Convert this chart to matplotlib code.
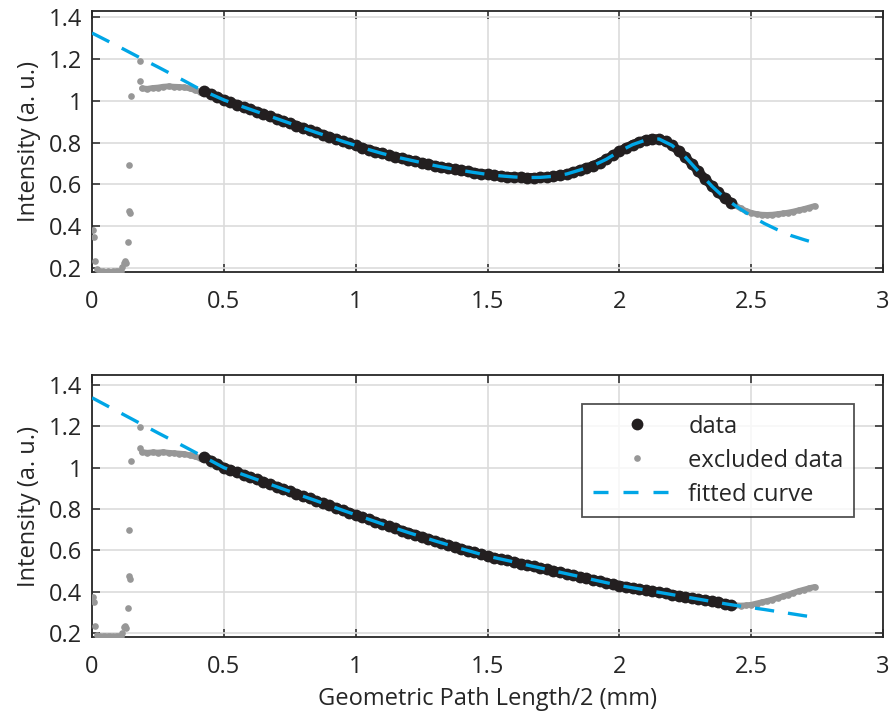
import numpy as np
import matplotlib
matplotlib.use('Agg')
import matplotlib.pyplot as plt
from matplotlib.ticker import FuncFormatter

plt.rcParams['font.family'] = 'Open Sans'

# sampling grids (mm)
data_x = np.round(np.arange(0.425, 2.4251, 0.025), 3)
fit_x = np.append(np.round(np.arange(0, 2.7001, 0.05), 2), 2.74)
excl_x = [0.005, 0.008, 0.012, 0.018, 0.03, 0.04, 0.05, 0.06, 0.07, 0.08, 0.09, 0.10,
          0.11, 0.115, 0.12, 0.125, 0.13, 0.135, 0.139, 0.142, 0.143, 0.148, 0.18, 0.182,
          0.19, 0.21, 0.23, 0.25, 0.27, 0.29, 0.31, 0.33, 0.35, 0.37, 0.39, 0.41,
          2.44, 2.46, 2.48, 2.50, 2.52, 2.54, 2.56, 2.58, 2.60, 2.62, 2.64, 2.66,
          2.68, 2.70, 2.72, 2.74]

# top panel
top_data = [1.045, 1.031, 1.017, 1.003, 0.991, 0.980, 0.969, 0.958, 0.947, 0.936,
            0.925, 0.914, 0.903, 0.892, 0.881, 0.870, 0.859, 0.848, 0.838, 0.827,
            0.817, 0.806, 0.796, 0.786, 0.776, 0.766, 0.757, 0.748, 0.740, 0.732,
            0.725, 0.718, 0.711, 0.704, 0.697, 0.690, 0.684, 0.678, 0.672, 0.667,
            0.662, 0.657, 0.652, 0.648, 0.644, 0.641, 0.638, 0.636, 0.634, 0.633,
            0.633, 0.634, 0.636, 0.639, 0.644, 0.650, 0.659, 0.669, 0.679, 0.690,
            0.704, 0.720, 0.739, 0.758, 0.775, 0.790, 0.803, 0.812, 0.818, 0.817,
            0.806, 0.786, 0.760, 0.731, 0.697, 0.662, 0.627, 0.593, 0.562, 0.535,
            0.512]
top_fit = [1.322, 1.290, 1.258, 1.225, 1.192, 1.160, 1.127, 1.094, 1.060, 1.031,
           1.003, 0.980, 0.958, 0.936, 0.914, 0.892, 0.870, 0.848, 0.827, 0.806,
           0.786, 0.766, 0.748, 0.732, 0.718, 0.704, 0.690, 0.678, 0.667, 0.657,
           0.648, 0.641, 0.636, 0.633, 0.634, 0.639, 0.650, 0.669, 0.690, 0.720,
           0.758, 0.790, 0.812, 0.817, 0.786, 0.731, 0.662, 0.593, 0.535, 0.490,
           0.450, 0.414, 0.384, 0.357, 0.337, 0.322]
top_excl = [0.381, 0.349, 0.235, 0.195, 0.188, 0.186, 0.185, 0.186, 0.185, 0.187, 0.186, 0.188,
            0.190, 0.205, 0.228, 0.233, 0.225, 0.324, 0.692, 0.476, 0.465, 1.024, 1.187, 1.092,
            1.058, 1.056, 1.060, 1.062, 1.066, 1.068, 1.066, 1.065, 1.063, 1.058, 1.050, 1.042,
            0.500, 0.486, 0.474, 0.465, 0.459, 0.456, 0.455, 0.456, 0.459, 0.462, 0.466, 0.471,
            0.477, 0.483, 0.490, 0.497]

# bottom panel
bot_data = [1.052, 1.034, 1.017, 1.000, 0.989, 0.977, 0.966, 0.954, 0.943, 0.931,
            0.920, 0.908, 0.897, 0.885, 0.874, 0.862, 0.851, 0.840, 0.828, 0.817,
            0.806, 0.794, 0.783, 0.772, 0.761, 0.750, 0.739, 0.728, 0.717, 0.707,
            0.696, 0.686, 0.676, 0.666, 0.656, 0.646, 0.636, 0.627, 0.617, 0.608,
            0.599, 0.590, 0.581, 0.572, 0.565, 0.558, 0.551, 0.544, 0.536, 0.529,
            0.522, 0.515, 0.508, 0.501, 0.494, 0.487, 0.480, 0.473, 0.465, 0.458,
            0.451, 0.444, 0.437, 0.430, 0.425, 0.419, 0.414, 0.408, 0.403, 0.397,
            0.392, 0.386, 0.381, 0.375, 0.370, 0.364, 0.359, 0.353, 0.348, 0.342,
            0.337]
bot_fit = [1.338, 1.304, 1.270, 1.236, 1.202, 1.168, 1.135, 1.102, 1.068, 1.034,
           1.000, 0.977, 0.954, 0.931, 0.908, 0.885, 0.862, 0.840, 0.817, 0.794,
           0.772, 0.750, 0.728, 0.707, 0.686, 0.666, 0.646, 0.627, 0.608, 0.590,
           0.572, 0.558, 0.544, 0.529, 0.515, 0.501, 0.487, 0.473, 0.458, 0.444,
           0.430, 0.419, 0.408, 0.397, 0.386, 0.375, 0.364, 0.353, 0.342, 0.332,
           0.323, 0.314, 0.304, 0.294, 0.284, 0.277]
bot_excl = [0.375, 0.351, 0.235, 0.190, 0.186, 0.185, 0.184, 0.185, 0.184, 0.186, 0.185, 0.186,
            0.188, 0.200, 0.230, 0.235, 0.225, 0.321, 0.698, 0.477, 0.461, 1.032, 1.197, 1.097,
            1.075, 1.072, 1.074, 1.073, 1.075, 1.072, 1.070, 1.068, 1.066, 1.060, 1.054, 1.045,
            0.334, 0.333, 0.334, 0.337, 0.343, 0.349, 0.355, 0.362, 0.370, 0.378, 0.386, 0.395,
            0.403, 0.410, 0.417, 0.423]

x_ticks = [0, 0.5, 1, 1.5, 2, 2.5, 3]
y_ticks = [0.2, 0.4, 0.6, 0.8, 1, 1.2, 1.4]

DATA_COLOR = '#231f20'
EXCL_COLOR = '#979797'
FIT_COLOR = '#00a6e6'
FS = 17


def draw_panel(ax, data, fit, excl, ylim):
    # dense measured points: thick band plus markers
    ax.plot(data_x, data, '-', color=DATA_COLOR, lw=6.5, solid_capstyle='round', zorder=3)
    ax.plot(data_x, data, 'o', color=DATA_COLOR, ms=8.5, mec='none', label='data', zorder=3)
    # contiguous excluded stretches drawn as a band too
    for lo, hi in [(24, 36), (36, 52)]:
        ax.plot(excl_x[lo:hi], excl[lo:hi], '-', color=EXCL_COLOR, lw=4.2,
                solid_capstyle='round', zorder=2.9)
    ax.plot(excl_x, excl, 'o', color=EXCL_COLOR, ms=4.8, mec='none', label='excluded data', zorder=2.9)
    ax.plot(fit_x, fit, color=FIT_COLOR, lw=2.4, dashes=(5.8, 4.2), label='fitted curve', zorder=4)
    ax.set_xlim(0, 3)
    ax.set_ylim(*ylim)
    ax.set_xticks(x_ticks)
    ax.set_yticks(y_ticks)
    fmt = FuncFormatter(lambda v, p: f'{v:g}')
    ax.xaxis.set_major_formatter(fmt)
    ax.yaxis.set_major_formatter(fmt)
    ax.grid(True, color='#dcdcdc', lw=1.2, zorder=0)
    ax.set_axisbelow(True)
    ax.tick_params(direction='in', length=6, width=1.1, top=True, right=True,
                   labelsize=FS, colors='#262626')
    ax.tick_params(axis='x', pad=13)
    ax.tick_params(axis='y', pad=7)
    for s in ax.spines.values():
        s.set_linewidth(1.3)
        s.set_color('#262626')
    ax.set_ylabel('Intensity (a. u.)', fontsize=FS, color='#262626', labelpad=6)


fig = plt.figure(figsize=(8.91, 7.18), dpi=100)
ax1 = fig.add_axes([0.1033, 0.6212, 0.8878, 0.3635])
ax2 = fig.add_axes([0.1033, 0.1128, 0.8878, 0.3649])

draw_panel(ax1, top_data, top_fit, top_excl, (0.183, 1.427))
draw_panel(ax2, bot_data, bot_fit, bot_excl, (0.181, 1.448))
ax2.set_xlabel('Geometric Path Length/2 (mm)', fontsize=FS, color='#262626', labelpad=6)

handles, labels = ax2.get_legend_handles_labels()
leg = ax2.legend(handles, labels, loc='upper right', bbox_to_anchor=(0.9637, 0.889),
                 borderaxespad=0, fontsize=FS, frameon=True, fancybox=False,
                 handlelength=3.7, handletextpad=0.35, labelspacing=0.42,
                 borderpad=0.45, markerscale=1.0)
leg.get_frame().set_edgecolor('#262626')
leg.get_frame().set_linewidth(1.3)
for t in leg.get_texts():
    t.set_color('#262626')
leg.legend_handles[2].set_dashes((4.5, 4.5))

fig.savefig('out.png', dpi=100)
